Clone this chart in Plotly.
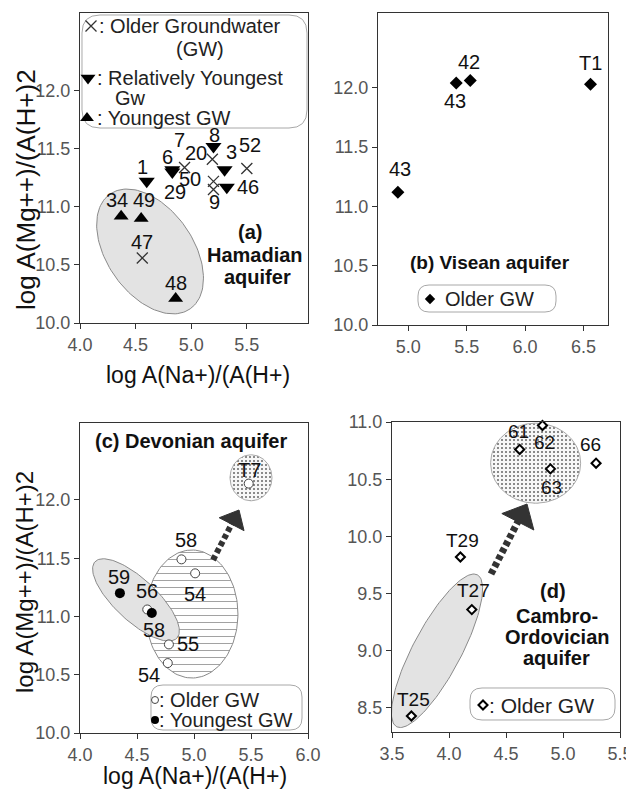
import numpy as np
import plotly.graph_objects as go

FONT = "Liberation Sans, Arial, sans-serif"
OFF = 8                      # page body margin in the browser
W, H = 634 - OFF, 795 - OFF  # figure size

# ---------------- data ----------------
# (a) Hamadian aquifer
a_old_labels = ["7", "20", "50", "9", "52", "47"]
a_old_x = [4.94, 5.19, 5.20, 5.20, 5.50, 4.56]
a_old_y = [11.34, 11.41, 11.22, 11.15, 11.33, 10.56]
a_rel_labels = ["1", "6", "29", "8", "3", "46"]
a_rel_x = [4.60, 4.83, 4.83, 5.20, 5.30, 5.32]
a_rel_y = [11.22, 11.32, 11.30, 11.52, 11.32, 11.17]
a_yng_labels = ["34", "49", "48"]
a_yng_x = [4.37, 4.55, 4.86]
a_yng_y = [10.92, 10.90, 10.21]

# (b) Visean aquifer
b_labels = ["43", "43", "42", "T1"]
b_x = [4.91, 5.41, 5.53, 6.56]
b_y = [11.12, 12.04, 12.06, 12.03]

# (c) Devonian aquifer
c_old_labels = ["58", "54", "56", "55", "54", "T7"]
c_old_x = [4.89, 5.01, 4.59, 4.78, 4.77, 5.48]
c_old_y = [11.49, 11.37, 11.06, 10.76, 10.60, 12.14]
c_yng_labels = ["59", "58"]
c_yng_x = [4.35, 4.63]
c_yng_y = [11.20, 11.03]

# (d) Cambro-Ordovician aquifer
d_labels = ["61", "62", "63", "66", "T29", "T27", "T25"]
d_x = [4.62, 4.82, 4.89, 5.29, 4.10, 4.20, 3.67]
d_y = [10.76, 10.97, 10.59, 10.64, 9.82, 9.36, 8.43]

# tick labels
a_xticks = [4.0, 4.5, 5.0, 5.5]
a_yticks = [10.0, 10.5, 11.0, 11.5, 12.0]
b_xticks = [5.0, 5.5, 6.0, 6.5]
b_yticks = [10.0, 10.5, 11.0, 11.5, 12.0]
c_xticks = [4.0, 4.5, 5.0, 5.5, 6.0]
c_yticks = [10.0, 10.5, 11.0, 11.5, 12.0]
d_xticks = [3.5, 4.0, 4.5, 5.0, 5.5]
d_yticks = [8.5, 9.0, 9.5, 10.0, 10.5, 11.0]

# ---------------- label offsets (px, dx right / dy down) ----------------
a_old_off = [(-5, -27), (-16, -6), (-23, -2), (1, 13), (3, -24), (0, -16)]
a_rel_off = [(-4, -14), (-5, -13), (3, 20), (1, -12), (7, -18), (21, 0)]
a_yng_off = [(-4, -16), (3, -19), (0, -16)]
b_off = [(2, -23), (-1, 18), (-1, -19), (0, -21)]
c_old_off = [(5, -19), (0, 21), (0, -18), (19, 0), (-19, 12), (1, -14)]
c_yng_off = [(-1, -16), (2, 17)]
d_off = [(-1, -18), (2, 17), (1, 19), (-6, -19), (2, -16), (2, -19), (2, -16)]

# ---------------- panel geometry (window pixels) ----------------
PANELS = {
    "a": dict(px=(80, 308), py=(13, 323), xr=(4.0, 6.05), yr=(10.0, 12.67), ax="x", ay="y"),
    "b": dict(px=(378, 608), py=(13, 325), xr=(4.74, 6.71), yr=(10.0, 12.63), ax="x2", ay="y2"),
    "c": dict(px=(80, 308), py=(423, 733), xr=(4.0, 6.0), yr=(10.0, 12.66), ax="x3", ay="y3"),
    "d": dict(px=(392, 620), py=(422, 732), xr=(3.5, 5.5), yr=(8.29, 11.0), ax="x4", ay="y4"),
}


def scale(p):
    g = PANELS[p]
    sx = (g["px"][1] - g["px"][0]) / (g["xr"][1] - g["xr"][0])
    sy = (g["py"][1] - g["py"][0]) / (g["yr"][1] - g["yr"][0])
    return sx, sy


def to_data(p, px, py):
    g = PANELS[p]
    sx, sy = scale(p)
    return g["xr"][0] + (px - g["px"][0]) / sx, g["yr"][0] + (g["py"][1] - py) / sy


def ellipse(p, cx, cy, a, b, ang, n=140):
    sx, sy = scale(p)
    t = np.linspace(0, 2 * np.pi, n)
    th = np.radians(ang)
    u, v = a * np.cos(t), b * np.sin(t)
    dx = u * np.cos(th) - v * np.sin(th)
    dy = u * np.sin(th) + v * np.cos(th)
    return list(cx + dx / sx), list(cy + dy / sy)


def paper(px, py):
    return (px - OFF) / W, 1 - (py - OFF) / H


fig = go.Figure()
shapes = []
ann = []


def region(p, xs, ys, fill=None, pattern=None, line="#8a8a8a"):
    g = PANELS[p]
    kw = dict(x=xs, y=ys, mode="lines", fill="toself", line=dict(color=line, width=1),
              hoverinfo="skip", showlegend=False, xaxis=g["ax"], yaxis=g["ay"])
    if pattern:
        kw["fillpattern"] = pattern
        kw["fillcolor"] = pattern.get("bgcolor", "white")
    else:
        kw["fillcolor"] = fill
    fig.add_trace(go.Scatter(**kw))


DOTS = dict(shape=".", fgcolor="#666", bgcolor="#f7f7f7", size=4, solidity=0.2)

# ---- regions ----
ex, ey = ellipse("a", 4.63, 10.616, 70, 43, -55)
region("a", ex, ey, fill="#e3e3e3")

ex, ey = ellipse("c", 4.982, 11.021, 46, 64, 0)
region("c", ex, ey, pattern=dict(shape="-", fgcolor="#a0a0a0", bgcolor="white", size=7, solidity=0.14))
ex, ey = ellipse("c", 4.491, 11.142, 56, 21, -43)
region("c", ex, ey, fill="#e3e3e3")
ex, ey = ellipse("c", 5.50, 12.19, 21, 23, 0)
region("c", ex, ey, pattern=DOTS, line="#aaa")

ex, ey = ellipse("d", 4.76, 10.64, 45, 40, 0)
region("d", ex, ey, pattern=DOTS, line="#aaa")
ex, ey = ellipse("d", 3.895, 9.0, 86, 24, 62)
region("d", ex, ey, fill="#e3e3e3")


# ---- arrows ----
def arrow(p, start, tip, L, w, lw):
    g = PANELS[p]
    sxp, syp = start
    txp, typ = tip
    vx, vy = txp - sxp, typ - syp
    n = (vx ** 2 + vy ** 2) ** 0.5
    ux, uy = vx / n, vy / n
    bx, by = txp - L * ux, typ - L * uy
    nx, ny = -uy, ux
    c1 = to_data(p, bx + w * nx, by + w * ny)
    c2 = to_data(p, bx - w * nx, by - w * ny)
    tp = to_data(p, txp, typ)
    s0 = to_data(p, sxp, syp)
    b0 = to_data(p, bx + 2 * ux, by + 2 * uy)
    shapes.append(dict(type="line", xref=g["ax"], yref=g["ay"], x0=s0[0], y0=s0[1], x1=b0[0], y1=b0[1],
                       line=dict(color="#333", width=lw, dash="5px,3px")))
    shapes.append(dict(type="path", xref=g["ax"], yref=g["ay"],
                       path=f"M{tp[0]},{tp[1]} L{c1[0]},{c1[1]} L{c2[0]},{c2[1]} Z",
                       fillcolor="#333", line=dict(color="#333", width=1)))


arrow("c", (213, 560), (239, 510), 16, 14, 6)
arrow("d", (491, 574), (527, 504), 20, 18, 7)


# ---- data markers ----
def pts(p, xs, ys, marker):
    g = PANELS[p]
    fig.add_trace(go.Scatter(x=xs, y=ys, mode="markers", marker=marker, showlegend=False,
                             hoverinfo="skip", xaxis=g["ax"], yaxis=g["ay"], cliponaxis=False))


M_X = dict(symbol="x-thin", size=11, line=dict(width=1.3, color="#333"))
M_DN = dict(symbol="triangle-down", size=14, color="black")
M_UP = dict(symbol="triangle-up", size=13, color="black")
M_DIA = dict(symbol="diamond", size=10, color="black")
M_OC = dict(symbol="circle", size=9, color="white", line=dict(color="#444", width=1))
M_FC = dict(symbol="circle", size=10, color="black")
M_D4 = dict(symbol="diamond", size=7, color="white", line=dict(color="black", width=2))

pts("a", a_old_x, a_old_y, M_X)
pts("a", a_rel_x, a_rel_y, M_DN)
pts("a", a_yng_x, a_yng_y, M_UP)
pts("b", b_x, b_y, M_DIA)
pts("c", c_old_x, c_old_y, M_OC)
pts("c", c_yng_x, c_yng_y, M_FC)
pts("d", d_x, d_y, M_D4)


def labels(p, texts, xs, ys, offs, size=20):
    g = PANELS[p]
    for t, x, y, (dx, dy) in zip(texts, xs, ys, offs):
        ann.append(dict(x=x, y=y, xref=g["ax"], yref=g["ay"], text=t, showarrow=False,
                        xshift=dx, yshift=-dy, font=dict(family=FONT, size=size, color="#111")))


labels("a", a_old_labels, a_old_x, a_old_y, a_old_off)
labels("a", a_rel_labels, a_rel_x, a_rel_y, a_rel_off)
labels("a", a_yng_labels, a_yng_x, a_yng_y, a_yng_off)
labels("b", b_labels, b_x, b_y, b_off)
labels("c", c_old_labels, c_old_x, c_old_y, c_old_off)
labels("c", c_yng_labels, c_yng_x, c_yng_y, c_yng_off)
labels("d", d_labels, d_x, d_y, d_off, size=19)


# ---- free text ----
def txt(px, py, text, size=20, anchor="center", angle=0, color="#111", bold=False):
    x, y = paper(px, py)
    if bold:
        text = f"<b>{text}</b>"
    ann.append(dict(x=x, y=y, xref="paper", yref="paper", text=text, showarrow=False,
                    xanchor=anchor, yanchor="middle", textangle=angle,
                    font=dict(family=FONT, size=size, color=color)))


YT = "log A(Mg++)/(A(H+)2"
XT = "log A(Na+)/(A(H+)"
txt(26, 190, YT, size=26, angle=-90)
txt(24, 582, YT, size=24, angle=-90)
txt(198, 375, XT, size=23)
txt(195, 776, XT, size=23)

txt(250, 232, "(a)", bold=True)
txt(255, 255, "Hamadian", bold=True)
txt(257, 277, "aquifer", bold=True)
txt(490, 262, "(b) Visean aquifer", size=19, bold=True)
txt(191, 441, "(c) Devonian aquifer", bold=True)
txt(553, 591, "(d)", bold=True)
txt(557, 616, "Cambro-", bold=True)
txt(557, 637, "Ordovician", bold=True)
txt(556, 658, "aquifer", bold=True)


# ---- legend boxes ----
def rrect(x0, y0, x1, y1, r):
    def P(a, b):
        u, v = paper(a, b)
        return f"{u:.5f},{v:.5f}"
    path = (f"M{P(x0 + r, y0)} L{P(x1 - r, y0)} Q{P(x1, y0)} {P(x1, y0 + r)} "
            f"L{P(x1, y1 - r)} Q{P(x1, y1)} {P(x1 - r, y1)} L{P(x0 + r, y1)} "
            f"Q{P(x0, y1)} {P(x0, y1 - r)} L{P(x0, y0 + r)} Q{P(x0, y0)} {P(x0 + r, y0)} Z")
    shapes.append(dict(type="path", xref="paper", yref="paper", path=path,
                       line=dict(color="#a8a8a8", width=1), fillcolor="white", layer="below"))


rrect(82, 15, 307, 128, 18)
rrect(418, 285, 556, 312, 11)
rrect(151, 685, 302, 730, 12)
rrect(470, 688, 615, 720, 12)


def legmark(p, px, py, marker):
    x, y = to_data(p, px, py)
    g = PANELS[p]
    fig.add_trace(go.Scatter(x=[x], y=[y], mode="markers", marker=marker, showlegend=False,
                             hoverinfo="skip", xaxis=g["ax"], yaxis=g["ay"], cliponaxis=False))


legmark("a", 91, 26, M_X)
legmark("a", 88, 78, dict(M_DN, size=13))
legmark("a", 87, 118, dict(M_UP, size=12))
legmark("b", 430, 299, dict(M_DIA, size=8))
legmark("c", 155, 700, dict(M_OC, size=7))
legmark("c", 155, 720, dict(M_FC, size=8))
legmark("d", 483, 705, M_D4)

txt(97, 26, ": Older Groundwater", anchor="left", color="#222")
txt(200, 49, "(GW)", color="#222")
txt(95, 78, ": Relatively Youngest", anchor="left", color="#222")
txt(113, 98, "Gw", anchor="left", color="#222")
txt(95, 118, ": Youngest GW", anchor="left", color="#222")
txt(443, 299, "Older GW", anchor="left", color="#222")
txt(157, 700, ": Older GW", anchor="left", color="#222")
txt(157, 720, ": Youngest GW", anchor="left", color="#222")
txt(487, 705, ": Older GW", anchor="left", size=21, color="#222")


# ---- axes ----
def axis(p, which, ticks):
    g = PANELS[p]
    if which == "x":
        dom = [(g["px"][0] - OFF) / W, (g["px"][1] - OFF) / W]
        rng = list(g["xr"])
        anchor = g["ay"]
    else:
        dom = [1 - (g["py"][1] - OFF) / H, 1 - (g["py"][0] - OFF) / H]
        rng = list(g["yr"])
        anchor = g["ax"]
    return dict(domain=dom, range=rng, tickvals=ticks, ticktext=[f"{v:.1f}" for v in ticks],
                ticks="outside", ticklen=5, tickcolor="#333", linecolor="#333", linewidth=1,
                mirror=True, showgrid=False, zeroline=False, anchor=anchor, fixedrange=True,
                automargin=False, tickfont=dict(family=FONT, size=18, color="#555"))


fig.update_layout(
    template="none",
    width=W, height=H, margin=dict(l=0, r=0, t=0, b=0, pad=0),
    paper_bgcolor="white", plot_bgcolor="rgba(0,0,0,0)",
    xaxis=axis("a", "x", a_xticks), yaxis=axis("a", "y", a_yticks),
    xaxis2=axis("b", "x", b_xticks), yaxis2=axis("b", "y", b_yticks),
    xaxis3=axis("c", "x", c_xticks), yaxis3=axis("c", "y", c_yticks),
    xaxis4=axis("d", "x", d_xticks), yaxis4=axis("d", "y", d_yticks),
    shapes=shapes, annotations=ann, showlegend=False,
)

fig.write_html("out.html")
